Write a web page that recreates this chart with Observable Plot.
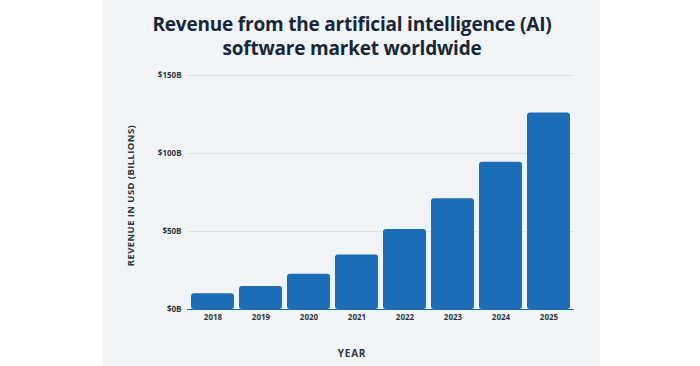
<!DOCTYPE html>
<html>
<head>
<meta charset="utf-8">
<script src="https://cdn.jsdelivr.net/npm/d3@7"></script>
<script src="https://cdn.jsdelivr.net/npm/@observablehq/plot@0.6"></script>
<style>
  html, body { margin: 0; padding: 0; background: #ffffff; }
  #wrap { position: relative; width: 700px; height: 366px; overflow: hidden; font-family: "Open Sans", sans-serif; }
  #panel { position: absolute; left: 103px; top: 0; width: 497px; height: 366px; background: #f1f4f7; }
  #title { position: absolute; left: 0; top: 12px; width: 704px; text-align: center; font-size: 19px; line-height: 24px; font-weight: 700; color: #17273a; letter-spacing: -0.2px; }
  #chart { position: absolute; left: 0; top: 62px; }
  #xlabel { position: absolute; left: 0; top: 346px; width: 704px; text-align: center; font-size: 10px; font-weight: 700; color: #2f3740; letter-spacing: 0.8px; }
</style>
</head>
<body>
<div id="wrap">
  <div id="panel"></div>
  <div id="title">Revenue from the artificial intelligence (AI)<br>software market worldwide</div>
  <div id="chart"></div>
  <div id="xlabel">YEAR</div>
</div>
<script>
const years = ["2018", "2019", "2020", "2021", "2022", "2023", "2024", "2025"];
const revenue = [10.1, 14.69, 22.59, 34.87, 51.27, 70.94, 94.41, 126];
const yTicks = [0, 50, 100, 150];
const yTickLabels = ["$0B", "$50B", "$100B", "$150B"];
const yLabel = "REVENUE IN USD (BILLIONS)";

const data = years.map((y, i) => ({year: y, value: revenue[i]}));

const chart = Plot.plot({
  width: 700,
  height: 270,
  marginTop: 13,
  marginBottom: 23,
  marginLeft: 187,
  marginRight: 126,
  style: { background: "transparent", fontFamily: "Open Sans, sans-serif", color: "#2f3740" },
  x: { domain: years, paddingInner: 0.1, paddingOuter: 0, label: null, tickSize: 0, tickPadding: 5 },
  y: { domain: [0, 150], ticks: yTicks, tickFormat: (d) => yTickLabels[yTicks.indexOf(d)], label: null, tickSize: 0, tickPadding: 6 },
  marks: [
    Plot.gridY(yTicks, { stroke: "#dde2e7", strokeOpacity: 1, strokeWidth: 1 }),
    Plot.barY(data, { x: "year", y: "value", fill: "#1c6cb6", rx: 3 }),
    Plot.ruleY([0], { stroke: "#1c6cb6", strokeWidth: 1 }),
    Plot.axisX({ tickSize: 0, tickPadding: 5, fontSize: 8, fontWeight: 700, fill: "#2f3740", label: null }),
    Plot.axisY(yTicks, { tickSize: 0, tickPadding: 6, fontSize: 8, fontWeight: 700, fill: "#2f3740", label: null, tickFormat: (d) => yTickLabels[yTicks.indexOf(d)] }),
    Plot.text([yLabel], { frameAnchor: "left", textAnchor: "middle", dx: -57, dy: 3, rotate: -90, fontSize: 9.5, fontWeight: 700, fill: "#2f3740", text: (d) => d, style: "letter-spacing: 0.4px" })
  ]
});
chart.querySelectorAll("text").forEach(t => { if (t.textContent === yLabel) t.style.letterSpacing = "0.4px"; });
document.getElementById("chart").appendChild(chart);
</script>
</body>
</html>
